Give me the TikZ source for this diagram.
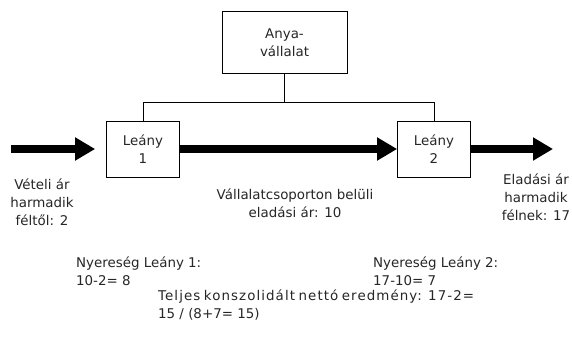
\documentclass[tikz,border=0pt]{standalone}
\usepackage{fontspec}
\setmainfont{DejaVu Sans}
\newfontfamily\widefont[LetterSpace=8]{DejaVu Sans}
\usetikzlibrary{arrows.meta}
\begin{document}
\begin{tikzpicture}[x=1pt,y=-1pt,
  txt/.style={text=black!85,font=\fontsize{13.4}{18}\selectfont},
  box/.style={txt,draw=black,line width=0.8pt,minimum width=73pt,minimum height=56pt,align=center,inner sep=0pt},
  conn/.style={line width=0.8pt},
  bigarrow/.style={line width=8pt,-{Triangle[length=20pt,width=22pt]}},
  lbl/.style={txt,inner sep=0pt,anchor=base},
]
\useasboundingbox (0,0) rectangle (572,340);
\node[box,minimum width=125pt,minimum height=62pt] (anya) at (284.5,42.3) {Anya-\\vállalat};
\node[box] (l1) at (143,149) {Leány\\1};
\node[box] (l2) at (434,149) {Leány\\2};
\coordinate (j) at (284.5,102.4);
\coordinate (in) at (11,149);
\coordinate (out) at (553,149);
\draw[conn] (anya.south) -- (j);
\draw[conn] (j) -| (l1.north);
\draw[conn] (j) -| (l2.north);
\draw[bigarrow,shorten >=11pt] (in) -- (l1.west);
\draw[bigarrow] (l1.east) -- (l2.west);
\draw[bigarrow] (l2.east) -- (out);
\node[lbl,align=center] (v) at (42,225) {Vételi ár\\harmadik\\féltől: 2};
\node[lbl,align=center] (m) at (295,217) {Vállalatcsoporton belüli\\eladási ár: 10};
\node[lbl,align=center] (e) at (536,220) {Eladási ár\\harmadik\\félnek: 17};
\node[lbl,anchor=base west,align=left] (n1) at (76,285) {Nyereség Leány 1:\\10-2= 8};
\node[lbl,anchor=base west,align=left] (n2) at (373,285) {Nyereség Leány 2:\\17-10= 7};
\node[lbl,anchor=base west,align=left] (t) at (158,318) {\makebox[295pt][s]{\widefont Teljes konszolidált nettó eredmény: 17-2=}\\15 / (8+7= 15)};
\end{tikzpicture}
\end{document}
